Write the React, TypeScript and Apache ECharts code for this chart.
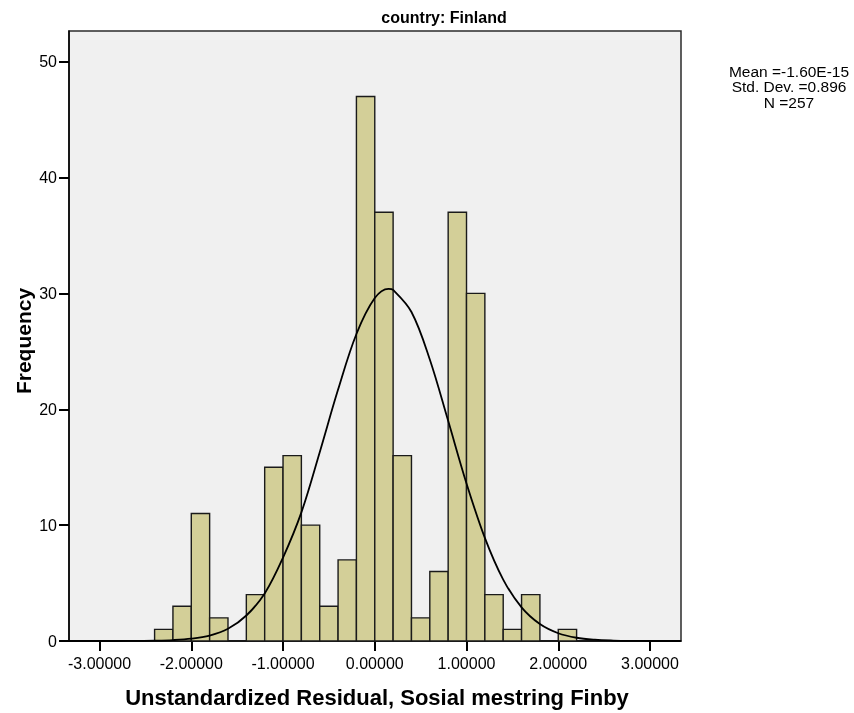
import React, { useEffect, useRef } from "react";
import * as echarts from "echarts";

// Histogram bin edges and frequencies
const binEdges = [-2.4, -2.2, -2.0, -1.8, -1.6, -1.4, -1.2, -1.0, -0.8, -0.6, -0.4, -0.2, 0.0, 0.2, 0.4, 0.6, 0.8, 1.0, 1.2, 1.4, 1.6, 1.8, 2.0, 2.2];
const counts = [1, 3, 11, 2, 0, 4, 15, 16, 10, 3, 7, 47, 37, 16, 2, 6, 37, 30, 4, 1, 4, 0, 1];

// Normal curve points
const curveX = [-3.333, -3.0, -2.8, -2.6, -2.4, -2.2, -2.0, -1.8, -1.6, -1.4, -1.2, -1.0, -0.8, -0.6, -0.4, -0.2, 0.0, 0.15, 0.2, 0.4, 0.6, 0.8, 1.0, 1.2, 1.4, 1.6, 1.8, 2.0, 2.2, 2.4, 2.6, 2.8, 3.0, 3.333];
const curveY = [0, 0, 0.002, 0.01, 0.03, 0.08, 0.2, 0.47, 1.05, 2.2, 4.1, 7.2, 11.1, 16.3, 21.7, 26.5, 29.6, 30.4, 30.3, 28.4, 24.3, 19.0, 13.6, 8.9, 5.3, 2.9, 1.46, 0.67, 0.28, 0.11, 0.04, 0.01, 0, 0];

const xTicks = [-3, -2, -1, 0, 1, 2, 3];
const yTicks = [0, 10, 20, 30, 40, 50];

const titleText = "country: Finland";
const xName = "Unstandardized Residual, Sosial mestring Finby";
const yName = "Frequency";
const statsLines = ["Mean =-1.60E-15", "Std. Dev. =0.896", "N =257"];

export default function App() {
  const ref = useRef<HTMLDivElement>(null);
  useEffect(() => {
    const chart = echarts.init(ref.current!, null, { renderer: "svg" });
    const barData = counts.map((c, i) => [binEdges[i], binEdges[i + 1], c]);
    const font = "'Liberation Sans', Arial, sans-serif";
    chart.setOption({
      animation: false,
      grid: {
        left: 69,
        right: 173,
        top: 31,
        bottom: 72,
        show: true,
        backgroundColor: "#F0F0F0",
        borderColor: "#2b2b2b",
        borderWidth: 1.5,
      },
      xAxis: {
        type: "value",
        min: -3.333,
        max: 3.338,
        splitLine: { show: false },
        axisLine: { show: true, onZero: false, lineStyle: { color: "#000", width: 1.5 } },
        axisTick: { show: true, length: 10, customValues: xTicks, lineStyle: { color: "#000", width: 2 } },
        axisLabel: {
          customValues: xTicks,
          formatter: (v: number) => v.toFixed(5),
          color: "#000",
          fontSize: 16,
          fontFamily: font,
          margin: 14,
        },
      },
      yAxis: {
        type: "value",
        min: 0,
        max: 52.65,
        splitLine: { show: false },
        axisLine: { show: true, onZero: false, lineStyle: { color: "#000", width: 1.5 } },
        axisTick: { show: true, length: 10, customValues: yTicks, lineStyle: { color: "#000", width: 2 } },
        axisLabel: {
          customValues: yTicks,
          color: "#000",
          fontSize: 16,
          fontFamily: font,
          margin: 12,
        },
      },
      series: [
        {
          type: "custom",
          data: barData,
          encode: { x: [0, 1], y: 2 },
          renderItem: (params: any, api: any) => {
            const p0 = api.coord([api.value(0), api.value(2)]);
            const p1 = api.coord([api.value(1), 0]);
            return {
              type: "rect",
              shape: { x: p0[0], y: p0[1], width: p1[0] - p0[0], height: p1[1] - p0[1] },
              style: { fill: "#D3CF98", stroke: "#1a1a1a", lineWidth: 1.4 },
            };
          },
          z: 2,
        },
        {
          type: "line",
          data: curveX.map((x, i) => [x, curveY[i]]),
          showSymbol: false,
          symbol: "none",
          smooth: 0.35,
          lineStyle: { color: "#000", width: 1.8 },
          z: 3,
        },
      ],
      graphic: [
        {
          type: "text",
          x: 444,
          y: 17,
          style: { text: titleText, font: `bold 16px ${font}`, fill: "#000", align: "center", verticalAlign: "middle" },
        },
        {
          type: "text",
          x: 377,
          y: 697,
          style: { text: xName, font: `bold 22px ${font}`, fill: "#000", align: "center", verticalAlign: "middle" },
        },
        {
          type: "text",
          x: 23,
          y: 341,
          rotation: Math.PI / 2,
          style: { text: yName, font: `bold 21px ${font}`, fill: "#000", align: "center", verticalAlign: "middle" },
        },
        ...statsLines.map((t, i) => ({
          type: "text",
          x: 789,
          y: 71 + i * 15.5,
          style: { text: t, font: `15.5px ${font}`, fill: "#000", align: "center", verticalAlign: "middle" },
        })),
      ],
    });
    return () => chart.dispose();
  }, []);
  return <div ref={ref} style={{ position: "fixed", left: 0, top: 0, width: 854, height: 713 }} />;
}
